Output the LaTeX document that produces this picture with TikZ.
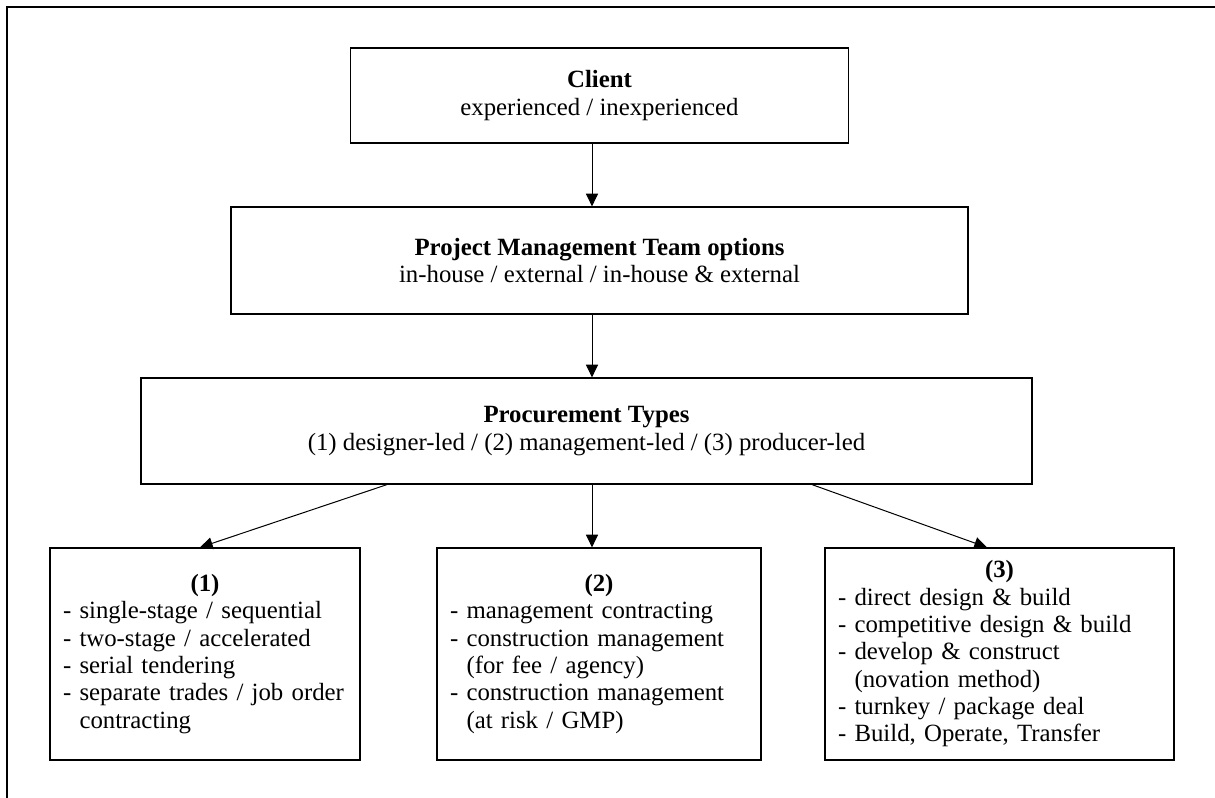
\documentclass[tikz,border=0pt]{standalone}
\usepackage{fontspec}
\setmainfont{Liberation Serif}
\usetikzlibrary{arrows.meta,positioning}

\tikzset{
  box/.style={draw, line width=0.9pt, inner sep=0pt, font=\fontsize{18.6}{20.5}\selectfont},
  topbox/.style={box, align=center},
  listbox/.style={box, align=left, inner xsep=9.75pt, minimum height=159pt},
  arr/.style={line width=0.75pt, -{Triangle[length=9.5pt,width=9pt]}}
}

\newcommand{\indln}{\hphantom{-\ }}
\newcommand{\boxhead}[1]{\hbox to\hsize{\hss\textbf{#1}\hss}\\}

\begin{document}
\begin{tikzpicture}[x=0.75pt,y=-0.75pt]
\useasboundingbox (0,0) rectangle (1215,798);
\draw[line width=1.5pt] (7,798) -- (7,7.5) -- (1215,7.5);

\node[topbox, minimum width=374pt, minimum height=71.25pt] (client) at (599.5,95.5)
  {\textbf{Client}\\experienced / inexperienced};
\node[topbox, minimum width=552.75pt, minimum height=80.25pt] (pm) at (599.5,260.5)
  {\textbf{Project Management Team options}\\in-house / external / in-house \& external};
\node[topbox, minimum width=668.25pt, minimum height=79.5pt] (proc) at (586.5,431)
  {\textbf{Procurement Types}\\(1) designer-led / (2) management-led / (3) producer-led};

\node[listbox, text width=213pt] (b1) at (205,654)
  {\boxhead{(1)}- single-stage / sequential\\- two-stage / accelerated\\- serial tendering\\- separate trades / job order\\\indln contracting};
\node[listbox, text width=223.5pt] (b2) at (599,654)
  {\boxhead{(2)}- management contracting\\- construction management\\\indln(for fee / agency)\\- construction management\\\indln(at risk / GMP)};
\node[listbox, text width=242.25pt] (b3) at (999.5,654)
  {\boxhead{(3)}- direct design \& build\\- competitive design \& build\\- develop \& construct\\\indln(novation method)\\- turnkey / package deal\\- Build, Operate, Transfer};

\coordinate (spine) at (592,0);
\draw[arr] (client.south -| spine) -- (pm.north -| spine);
\draw[arr] (pm.south -| spine) -- (proc.north -| spine);
\draw[arr] ([xshift=-149.6pt]proc.south) -- ([xshift=-3.75pt]b1.north);
\draw[arr] (proc.south -| spine) -- (b2.north -| spine);
\draw[arr] ([xshift=169.1pt]proc.south) -- ([xshift=-9.4pt]b3.north);
\end{tikzpicture}
\end{document}
